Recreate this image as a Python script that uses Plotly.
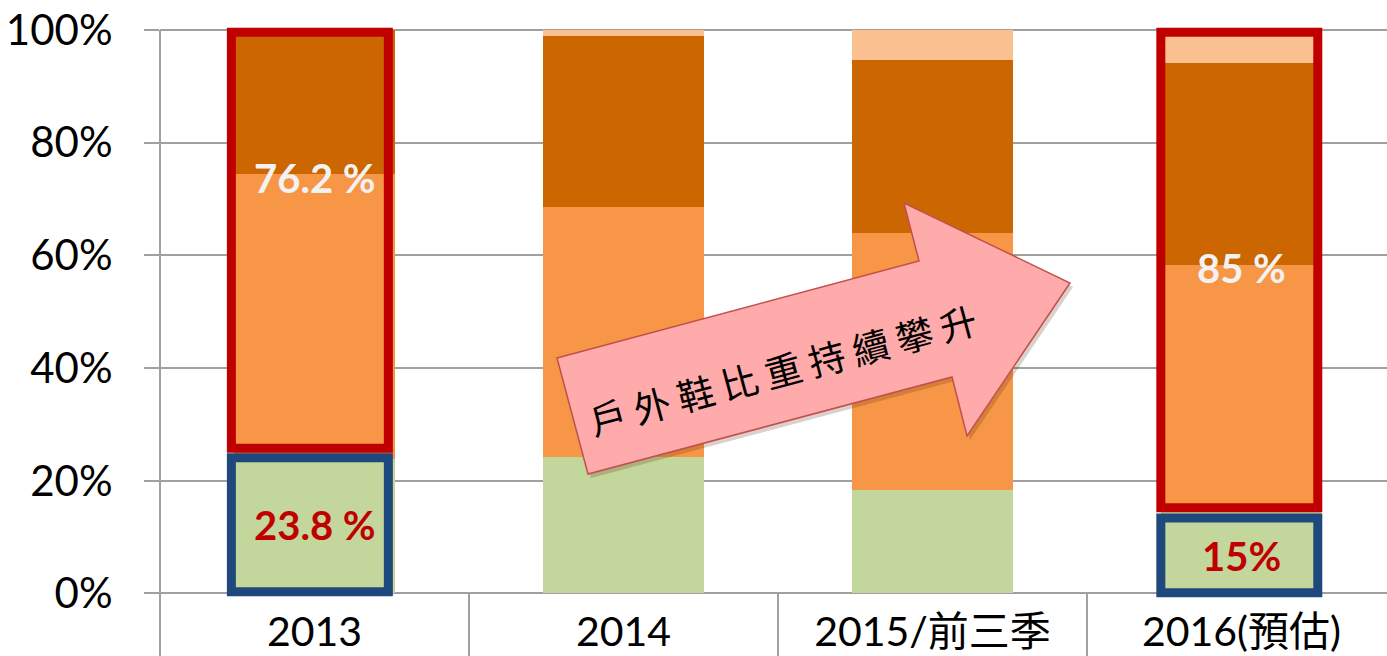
import plotly.graph_objects as go

# ---- data ----
categories = ["2013", "2014", "2015/前三季", "2016(預估)"]
green_share = [23.8, 24.2, 18.3, 15.0]    # bottom segment
orange_share = [50.6, 44.4, 45.6, 43.3]   # middle segment
dark_share = [25.6, 30.3, 30.8, 35.8]     # upper segment
peach_share = [0.0, 1.1, 5.3, 5.9]        # top segment
ytick_vals = [0, 20, 40, 60, 80, 100]
ytick_text = ["0%", "20%", "40%", "60%", "80%", "100%"]
outdoor_labels = ["76.2 %", "85 %"]
other_labels = ["23.8 %", "15%"]
arrow_text = "戶外鞋比重持續攀升"

# ---- layout constants ----
W, H = 1387, 656
ML, MR, MT, MB = 160, 0, 25, 58
YR = [-0.8, 100.9]
XR = [-0.5, 3.471]
PW, PH = W - ML - MR, H - MT - MB

def pxp(px, py):
    return (px - ML) / PW, (H - MB - py) / PH

def xpaper(v):
    return (v - XR[0]) / (XR[1] - XR[0])

def ypaper(v):
    return (v - YR[0]) / (YR[1] - YR[0])

GREEN, ORANGE, DARK, PEACH = "#C3D69B", "#F79646", "#CC6600", "#FAC090"
RED, BLUE, GRID = "#C00000", "#1F497D", "#A0A0A0"
FONT = "Lato, 'Noto Sans CJK TC', sans-serif"

fig = go.Figure()
for vals, col in [(green_share, GREEN), (orange_share, ORANGE),
                  (dark_share, DARK), (peach_share, PEACH)]:
    fig.add_trace(go.Bar(x=categories, y=vals, marker=dict(color=col, line=dict(width=0)),
                         width=0.518, showlegend=False, hoverinfo="skip"))

shapes = []
# vertical dividers below the axis and left axis line
for b in [-0.5, 0.5, 1.5, 2.5]:
    top = ypaper(100) if b == -0.5 else ypaper(0)
    shapes.append(dict(type="line", xref="paper", yref="paper", x0=xpaper(b), x1=xpaper(b),
                       y0=top, y1=-0.15, line=dict(color=GRID, width=2), layer="above"))

# highlight boxes
box_centers = [-0.015, 2.993]
half = 0.254
red_box_y = [(25.8, 99.6), (15.2, 99.6)]
blue_box_y = [(0.3, 24.1), (0.15, 13.4)]
for c, (r0, r1), (b0, b1) in zip(box_centers, red_box_y, blue_box_y):
    shapes.append(dict(type="rect", xref="x", yref="y", x0=c - half, x1=c + half, y0=r0, y1=r1,
                       line=dict(color=RED, width=9), fillcolor="rgba(0,0,0,0)", layer="above"))
    shapes.append(dict(type="rect", xref="x", yref="y", x0=c - half, x1=c + half, y0=b0, y1=b1,
                       line=dict(color=BLUE, width=9), fillcolor="rgba(0,0,0,0)", layer="above"))

# pink arrow (decoration), pixel coordinates converted to paper
arrow_px = [(557, 358), (919, 261), (904, 203), (1070, 283), (967, 436), (952, 377), (588, 474)]
shadow = "M " + " L ".join("%.5f,%.5f" % pxp(x + 3, y + 4) for x, y in arrow_px) + " Z"
shapes.append(dict(type="path", xref="paper", yref="paper", path=shadow,
                   fillcolor="rgba(90,40,20,0.22)", line=dict(width=0), layer="above"))
path = "M " + " L ".join("%.5f,%.5f" % pxp(x, y) for x, y in arrow_px) + " Z"
shapes.append(dict(type="path", xref="paper", yref="paper", path=path,
                   fillcolor="#FFABAB", line=dict(color="#C0504D", width=1.5), layer="above"))

annotations = []
for c, lab, yv in zip([0, 3], outdoor_labels, [73.8, 57.8]):
    annotations.append(dict(x=c, y=yv, xref="x", yref="y", text=lab, showarrow=False,
                            font=dict(family=FONT, size=40, color="#F2F2F2", weight=700)))
for c, lab, yv in zip([0, 3], other_labels, [12.1, 6.6]):
    annotations.append(dict(x=c, y=yv, xref="x", yref="y", text=lab, showarrow=False,
                            font=dict(family=FONT, size=40, color=RED, weight=700)))
ax, ay = pxp(782, 369)
annotations.append(dict(x=ax, y=ay, xref="paper", yref="paper", text=" ".join(arrow_text),
                        showarrow=False, textangle=-15, xanchor="center", yanchor="middle",
                        font=dict(family="'Noto Sans CJK TC'", size=37, color="black")))

fig.update_layout(
    width=W, height=H, barmode="stack", bargap=0.48,
    margin=dict(l=ML, r=MR, t=MT, b=MB, autoexpand=False),
    plot_bgcolor="white", paper_bgcolor="white",
    shapes=shapes, annotations=annotations,
    xaxis=dict(range=XR, showgrid=False, showline=False, zeroline=False, ticks="",
               automargin=False,
               tickfont=dict(family=FONT, size=41, color="black"), ticklabelstandoff=6),
    yaxis=dict(range=YR, tickvals=ytick_vals, ticktext=ytick_text, showgrid=True,
               automargin=False,
               gridcolor=GRID, gridwidth=2, zeroline=False, showline=False,
               ticks="outside", ticklen=15, tickwidth=2, tickcolor=GRID,
               ticklabelstandoff=23,
               tickfont=dict(family=FONT, size=42, color="black")),
)

fig.write_html("out.html", config={"displayModeBar": False},
               post_script="document.body.style.margin='0px';document.body.style.overflow='hidden';")
